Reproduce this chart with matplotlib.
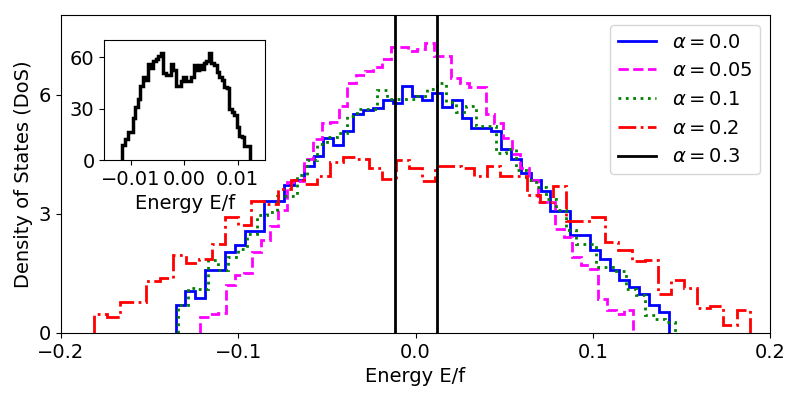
import numpy as np
import matplotlib
matplotlib.use('Agg')
import matplotlib.pyplot as plt

plt.rc('font', size=14)

# Density of states for each alpha, 50 bins each
alphas = [0.0, 0.05, 0.1, 0.2, 0.3]
colors = ['blue', 'magenta', 'green', 'red', 'black']
styles = ['-', '--', ':', '-.', '-']

# energy range covered by each histogram
e_lo = [-0.1354, -0.1213, -0.1341, -0.1814, -0.0116]
e_hi = [0.1429, 0.1226, 0.1466, 0.1885, 0.0122]

dos_00 = [0.70, 1.05, 0.88, 1.58, 1.58, 2.04, 2.21, 2.56, 2.56, 3.33,
          3.33, 3.73, 3.86, 4.21, 4.46, 4.90, 4.73, 5.09, 5.52, 5.61,
          5.67, 5.86, 5.78, 6.22, 5.96, 5.86, 6.05, 5.69, 5.86, 5.42,
          5.16, 5.16, 5.09, 4.63, 4.38, 4.02, 3.85, 3.58, 3.06, 3.06,
          2.46, 2.46, 2.10, 1.85, 1.58, 1.33, 1.15, 0.98, 0.70, 0.53]

dos_005 = [0.41, 0.47, 0.50, 1.20, 1.45, 1.50, 2.03, 2.33, 2.70, 3.10,
           3.79, 3.83, 4.38, 4.88, 5.28, 5.30, 5.70, 6.29, 6.49, 6.59,
           6.70, 6.89, 7.19, 7.19, 7.09, 7.15, 7.30, 6.98, 6.98, 6.42,
           6.30, 6.20, 6.20, 5.51, 5.28, 4.90, 4.50, 4.15, 3.85, 3.29,
           3.29, 2.62, 2.41, 1.91, 1.70, 1.60, 0.85, 0.59, 0.49, 0.58]

dos_01 = [0.70, 1.12, 1.10, 1.83, 1.58, 1.91, 2.12, 2.50, 2.96, 3.04,
          3.45, 3.45, 3.98, 4.34, 4.75, 4.92, 5.03, 5.47, 5.63, 5.63,
          6.11, 5.88, 5.88, 5.88, 5.97, 6.13, 6.30, 5.80, 5.55, 5.70,
          5.21, 5.21, 4.52, 4.64, 4.10, 3.85, 3.68, 3.38, 3.10, 2.59,
          2.25, 2.25, 1.65, 1.65, 1.55, 1.10, 0.95, 0.45, 0.35, 0.28]

dos_02 = [0.49, 0.41, 0.79, 0.79, 1.30, 1.38, 1.97, 1.75, 1.87, 2.25,
          2.92, 2.71, 3.33, 3.25, 3.63, 3.85, 3.75, 3.96, 4.29, 4.42,
          4.38, 4.15, 3.88, 4.36, 4.15, 3.83, 4.21, 4.21, 4.15, 3.96,
          4.21, 3.96, 3.96, 3.48, 3.29, 3.71, 2.83, 2.83, 2.92, 2.29,
          2.08, 1.80, 1.83, 0.99, 1.33, 1.14, 0.62, 0.68, 0.20, 0.59]

dos_03 = [8.6, 12.0, 16.5, 16.5, 24.3, 31.0, 35.6, 43.0, 48.7, 46.7,
          55.9, 53.5, 58.0, 58.8, 60.4, 62.3, 50.6, 49.6, 49.6, 56.0,
          52.6, 43.2, 43.2, 45.8, 48.7, 45.8, 45.8, 48.7, 55.5, 52.6,
          55.5, 53.0, 56.5, 58.0, 62.3, 56.5, 55.5, 51.6, 48.7, 46.7,
          42.8, 41.9, 29.6, 28.2, 26.3, 19.5, 14.0, 13.6, 8.4, 8.2]

all_dos = [dos_00, dos_005, dos_01, dos_02, dos_03]

fig = plt.figure(figsize=(8, 4), dpi=100)
ax = fig.add_axes([0.07625, 0.1675, 0.88625, 0.795])

for a, d, lo, hi, c, ls in zip(alphas, all_dos, e_lo, e_hi, colors, styles):
    edges = np.linspace(lo, hi, len(d) + 1)
    ax.stairs(d, edges, color=c, linestyle=ls, linewidth=2,
              label=r'$\alpha = %s$' % a)

ax.set_xlim(-0.2, 0.2)
ax.set_ylim(0, 8)
ax.set_xticks([-0.2, -0.1, 0.0, 0.1, 0.2])
ax.set_yticks([0, 3, 6])
ax.set_xlabel('Energy E/f')
ax.set_ylabel('Density of States (DoS)')
ax.legend(loc='upper right')

# inset: alpha = 0.3 in full
ins = fig.add_axes([0.1304, 0.6, 0.2009, 0.3])
edges = np.linspace(e_lo[4], e_hi[4], len(dos_03) + 1)
ins.stairs(dos_03, edges, color='black', linewidth=2.5)
ins.set_xlim(-0.015, 0.0151)
ins.set_ylim(0, 70)
ins.set_xticks([-0.01, 0.0, 0.01])
ins.set_yticks([0, 30, 60])
ins.set_xlabel('Energy E/f')

fig.savefig('out.png', dpi=100)
